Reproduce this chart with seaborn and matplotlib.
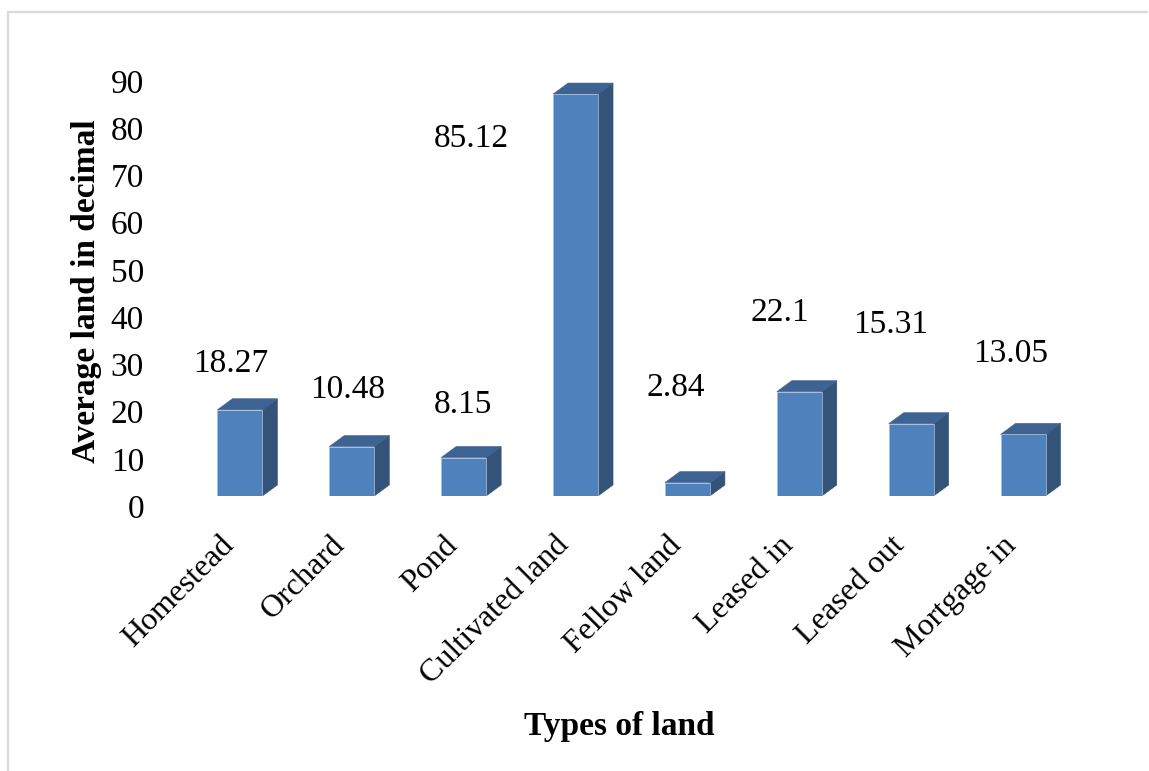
import matplotlib
matplotlib.use("Agg")
import matplotlib.pyplot as plt
import seaborn as sns
import pandas as pd
from matplotlib.lines import Line2D
from matplotlib.patches import Polygon
from matplotlib.transforms import ScaledTranslation

categories = ["Homestead", "Orchard", "Pond", "Cultivated land",
              "Fellow land", "Leased in", "Leased out", "Mortgage in"]
values = [18.27, 10.48, 8.15, 85.12, 2.84, 22.1, 15.31, 13.05]
labels = ["18.27", "10.48", "8.15", "85.12", "2.84", "22.1", "15.31", "13.05"]
y_ticks = [0, 10, 20, 30, 40, 50, 60, 70, 80, 90]

W, H, DPI = 1149, 771, 100
FRONT = "#4F81BD"
TOP = "#3C6391"
SIDE = "#335378"
EDGE = "#A9C0DE"
FS = 24

# label centre offsets from each bar's top centre, in pixels
label_dx = [-9, -4, -1, -104, -12, -19, -21, -12]
label_dy = [46, 57, 53, -45, 95, 79, 99, 81]

sns.set_theme(style="white")
plt.rcParams["font.family"] = ["Liberation Serif", "DejaVu Serif"]

fig = plt.figure(figsize=(W / DPI, H / DPI), dpi=DPI)
left, right, top, bottom = 184, 1079, 71, 496
ax = fig.add_axes([left / W, 1 - bottom / H, (right - left) / W, (bottom - top) / H])
ax.patch.set_alpha(0)

df = pd.DataFrame({"land": categories, "value": values})
sns.barplot(data=df, x="land", y="value", color=FRONT, saturation=1, width=45 / 112,
            edgecolor=EDGE, linewidth=0.5, ax=ax, zorder=3)
ax.set_ylim(0, 90)
ax.set_xlim(-0.5, len(categories) - 0.5)

# pseudo-3D depth, given in pixels and converted to data units
dx_px, dy_px = 15, 11
dx = dx_px * (len(categories)) / (right - left)
dy = dy_px * 90 / (bottom - top)
for patch in ax.patches[:len(categories)]:
    x0, x1 = patch.get_x(), patch.get_x() + patch.get_width()
    h = patch.get_height()
    side = Polygon([(x1, 0), (x1 + dx, dy), (x1 + dx, h + dy), (x1, h)], closed=True,
                   facecolor=SIDE, edgecolor=SIDE, linewidth=0.4, clip_on=False, zorder=2)
    roof = Polygon([(x0, h), (x0 + dx, h + dy), (x1 + dx, h + dy), (x1, h)], closed=True,
                   facecolor=TOP, edgecolor=TOP, linewidth=0.4, clip_on=False, zorder=2)
    ax.add_patch(side)
    ax.add_patch(roof)

for s in ax.spines.values():
    s.set_visible(False)

ax.set_yticks(y_ticks)
ax.set_yticklabels([str(t) for t in y_ticks], fontsize=FS, color="black")
ax.set_xticks(range(len(categories)))
ax.set_xticklabels(categories, fontsize=23, rotation=45, ha="right", va="top",
                   rotation_mode="anchor", color="black")
ax.tick_params(axis="both", length=0)
ax.tick_params(axis="y", pad=(left - 144) * 72 / DPI)
ax.tick_params(axis="x", pad=25)

# the value axis sits 10 px below the bars' front plane; category labels sit left of bar centre
y_shift = ScaledTranslation(0, -10 / DPI, fig.dpi_scale_trans)
for t in ax.get_yticklabels():
    t.set_transform(t.get_transform() + y_shift)
x_shift = ScaledTranslation(-21 / DPI, 0, fig.dpi_scale_trans)
for t in ax.get_xticklabels():
    t.set_transform(t.get_transform() + x_shift)

ax.set_xlabel("")
ax.set_ylabel("")
fig.text(619 / W, 1 - 727 / H, "Types of land", fontsize=FS, fontweight="bold",
         ha="center", va="center", color="black")
fig.text(87 / W, 1 - 291 / H, "Average land in decimal", fontsize=FS, fontweight="bold",
         rotation=90, ha="center", va="center", color="black")

for i, (v, lab) in enumerate(zip(values, labels)):
    ax.annotate(lab, xy=(i, v), xycoords="data",
                xytext=(label_dx[i] * 72 / DPI, label_dy[i] * 72 / DPI),
                textcoords="offset points", ha="center", va="center",
                fontsize=FS, color="black", zorder=5)

# outer chart frame
frame = "#D9D9D9"
fig.add_artist(Line2D([8 / W, 8 / W], [0, 1 - 12 / H], color=frame, lw=1.6))
fig.add_artist(Line2D([8 / W, 1147 / W], [1 - 12 / H, 1 - 12 / H], color=frame, lw=1.6))

fig.savefig("out.png", dpi=DPI)
